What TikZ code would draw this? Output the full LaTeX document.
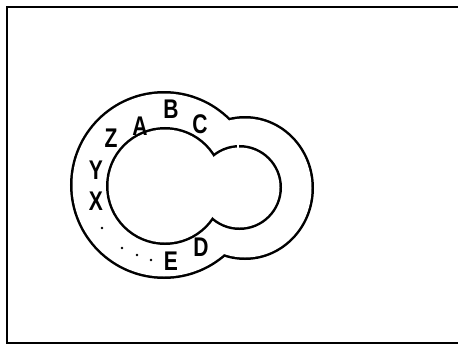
\documentclass[tikz,border=0pt]{standalone}
\usepackage{fontspec}
\setmainfont{Liberation Sans}
\begin{document}
\begin{tikzpicture}[x=1pt,y=-1pt,
  lbl/.style={font=\fontsize{27}{27}\selectfont\bfseries, xscale=0.78, inner sep=0pt, anchor=center},
  outline/.style={line width=5pt},
  frameline/.style={line width=2.8pt, line cap=rect},
  dotmark/.style={circle, fill=black, inner sep=0pt, minimum size=2.6pt}]
\useasboundingbox (0,0) rectangle (458,348);
% frame
\coordinate (f1) at (458,7);
\coordinate (f2) at (7,7);
\coordinate (f3) at (7,343);
\coordinate (f4) at (458,343);
\draw[frameline] (f1) -- (f2) -- (f3) -- (f4);
% outer union outline
\draw[outline] (164,185) circle[radius=91.5];
\draw[outline] (245,188) ellipse[x radius=66.5, y radius=69.5];
\fill[white] (164,185) circle[radius=91.5];
\fill[white] (245,188) ellipse[x radius=66.5, y radius=69.5];
% inner union outline
\draw[outline] (165,186) circle[radius=56.5];
\draw[outline] (239.5,187.5) circle[radius=40];
\fill[white] (165,186) circle[radius=56.5];
\fill[white] (239.5,187.5) circle[radius=40];
% small break in the inner right lobe
\fill[white] (237,143) rectangle (239.2,148);
% letters
\node[lbl] (Z) at (111,138) {Z};
\node[lbl] (A) at (140,126) {A};
\node[lbl] (B) at (171,109) {B};
\node[lbl] (C) at (200,124) {C};
\node[lbl] (Y) at (96,170) {Y};
\node[lbl] (X) at (96,201) {X};
\node[lbl] (E) at (171,261) {E};
\node[lbl] (D) at (201,247) {D};
% dots
\node[dotmark] (d1) at (102,228) {};
\node[dotmark] (d2) at (122,248) {};
\node[dotmark] (d3) at (137,255) {};
\node[dotmark] (d4) at (151,260) {};
\end{tikzpicture}
\end{document}
